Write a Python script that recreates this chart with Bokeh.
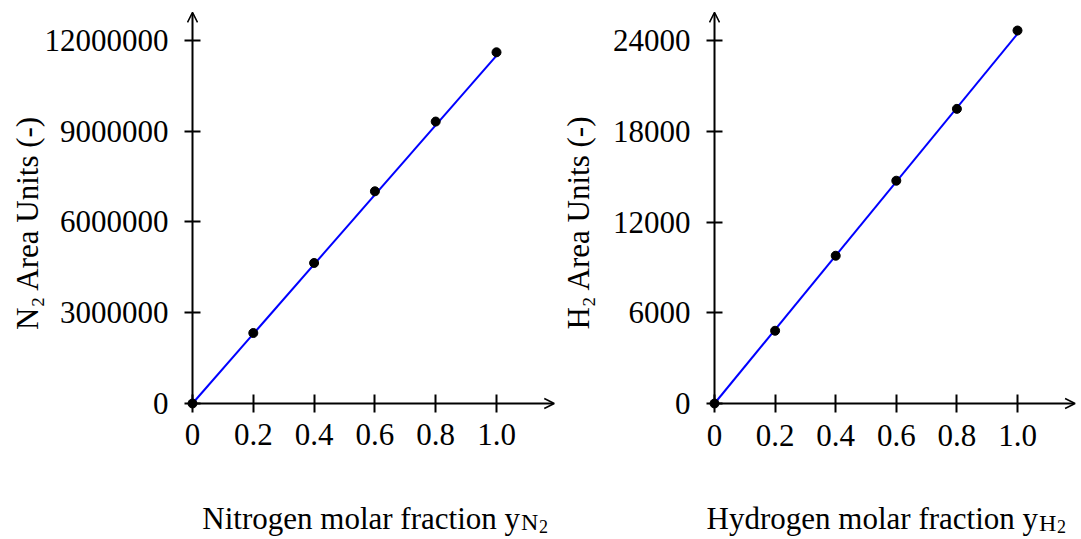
from bokeh.plotting import figure
from bokeh.layouts import row
from bokeh.models import (Range1d, FixedTicker, BasicTickFormatter, Arrow, OpenHead,
                          Label, LinearAxis)
from bokeh.embed import file_html
from bokeh.resources import INLINE
import math

# ---------------- data ----------------
x_frac = [0.0, 0.2, 0.4, 0.6, 0.8, 1.0]
n2_area = [0, 2330000, 4645000, 7015000, 9320000, 11610000]
h2_area = [0, 4810, 9770, 14730, 19480, 24660]

fit_x = [0.0, 1.0]
n2_fit = [0, 11500000]
h2_fit = [0, 24440]

x_ticks = [0.0, 0.2, 0.4, 0.6, 0.8, 1.0]
x_tick_labels = ["0", "0.2", "0.4", "0.6", "0.8", "1.0"]
n2_ticks = [0, 3000000, 6000000, 9000000, 12000000]
n2_tick_labels = ["0", "3000000", "6000000", "9000000", "12000000"]
h2_ticks = [0, 6000, 12000, 18000, 24000]
h2_tick_labels = ["0", "6000", "12000", "18000", "24000"]

FONT = "Liberation Serif"
TICK_SIZE = "31px"
YLABEL_SIZE = "31px"
XLABEL_SIZE = "31px"
SUB_SIZE = "24px"
SUBSUB_SIZE = "18px"
HEIGHT = 536


def make_panel(width, xr, yr, ys, yticks, ytlabels, fit_y, x_tip, y_tip,
               ylab, ylab_pos, xlab_main, xlab_sub, xlab_pos, sub_pos):
    p = figure(width=width, height=HEIGHT, x_range=Range1d(*xr), y_range=Range1d(*yr),
               output_backend="svg", toolbar_location=None,
               min_border_left=0, min_border_right=0,
               min_border_top=0, min_border_bottom=0,
               x_axis_location=None, y_axis_location=None)
    p.title.visible = False
    p.outline_line_color = None
    p.grid.visible = False
    p.background_fill_color = "white"
    p.border_fill_color = "white"

    xa = LinearAxis(fixed_location=0)
    xa.ticker = FixedTicker(ticks=x_ticks)
    xa.major_label_overrides = {t: l for t, l in zip(x_ticks, x_tick_labels)}
    xa.axis_line_color = None
    xa.major_tick_in = 9
    xa.major_tick_out = 9
    xa.major_tick_line_width = 2
    xa.minor_tick_line_color = None
    xa.major_label_standoff = 12
    xa.major_label_text_font = FONT
    xa.major_label_text_font_size = TICK_SIZE
    xa.major_label_text_color = "black"
    p.add_layout(xa, "below")

    ya = LinearAxis(fixed_location=0)
    ya.ticker = FixedTicker(ticks=yticks)
    ya.formatter = BasicTickFormatter(use_scientific=False)
    ya.major_label_overrides = {t: l for t, l in zip(yticks, ytlabels)}
    ya.axis_line_color = None
    ya.major_tick_in = 8
    ya.major_tick_out = 8
    ya.major_tick_line_width = 2
    ya.minor_tick_line_color = None
    ya.major_label_standoff = 16
    ya.major_label_text_font = FONT
    ya.major_label_text_font_size = TICK_SIZE
    ya.major_label_text_color = "black"
    p.add_layout(ya, "left")

    p.add_layout(Arrow(end=OpenHead(size=10, line_width=1.5, line_color="black"),
                       x_start=0, y_start=0, x_end=x_tip, y_end=0,
                       line_width=2, line_color="black"))
    p.add_layout(Arrow(end=OpenHead(size=10, line_width=1.5, line_color="black"),
                       x_start=0, y_start=0, x_end=0, y_end=y_tip,
                       line_width=2, line_color="black"))

    p.line(fit_x, fit_y, line_color="#0000ff", line_width=2)
    p.scatter(x_frac, ys, size=9, fill_color="black", line_color="black")

    p.add_layout(Label(x=ylab_pos[0], y=ylab_pos[1], text=ylab, angle=math.pi / 2,
                       text_align="center", text_baseline="alphabetic",
                       text_font=FONT, text_font_size=YLABEL_SIZE, text_color="black"))
    p.add_layout(Label(x=xlab_pos[0], y=xlab_pos[1], text=xlab_main,
                       text_align="right", text_baseline="alphabetic",
                       text_font=FONT, text_font_size=XLABEL_SIZE, text_color="black"))
    p.add_layout(Label(x=sub_pos[0], y=sub_pos[1], text=xlab_sub,
                       text_align="left", text_baseline="alphabetic",
                       text_font=FONT, text_font_size=SUB_SIZE, text_color="black"))
    p.add_layout(Label(x=sub_pos[0], y=sub_pos[1], text="2", x_offset=18, y_offset=-4,
                       text_align="left", text_baseline="alphabetic",
                       text_font=FONT, text_font_size=SUBSUB_SIZE, text_color="black"))
    return p


# left panel: canvas 0..560 px, x=0 at 192 px (304 px/unit); y=0 at 403 px (30.25 px per 1e6)
p1 = make_panel(
    560,
    (-0.6316, 1.2105), (-4397000, 13322000),
    n2_area, n2_ticks, n2_tick_labels, n2_fit,
    1.19, 12930000,
    "N\u2082 Area Units (-)", (-0.5428, 5983000),
    "Nitrogen molar fraction y", "N", (1.0773, -3802000), (1.0806, -3934000),
)

# right panel: canvas 560..1081 px, x=0 at 714 px (303 px/unit); y=0 at 403 px (15.125 px per 1000)
p2 = make_panel(
    521,
    (-0.5083, 1.2112), (-8793, 26645),
    h2_area, h2_ticks, h2_tick_labels, h2_fit,
    1.19, 25860,
    "H\u2082 Area Units (-)", (-0.4488, 11987),
    "Hydrogen molar fraction y", "H", (1.0677, -7603), (1.0710, -7868),
)

layout = row(p1, p2)
open("out.html", "w").write(file_html(layout, INLINE))
